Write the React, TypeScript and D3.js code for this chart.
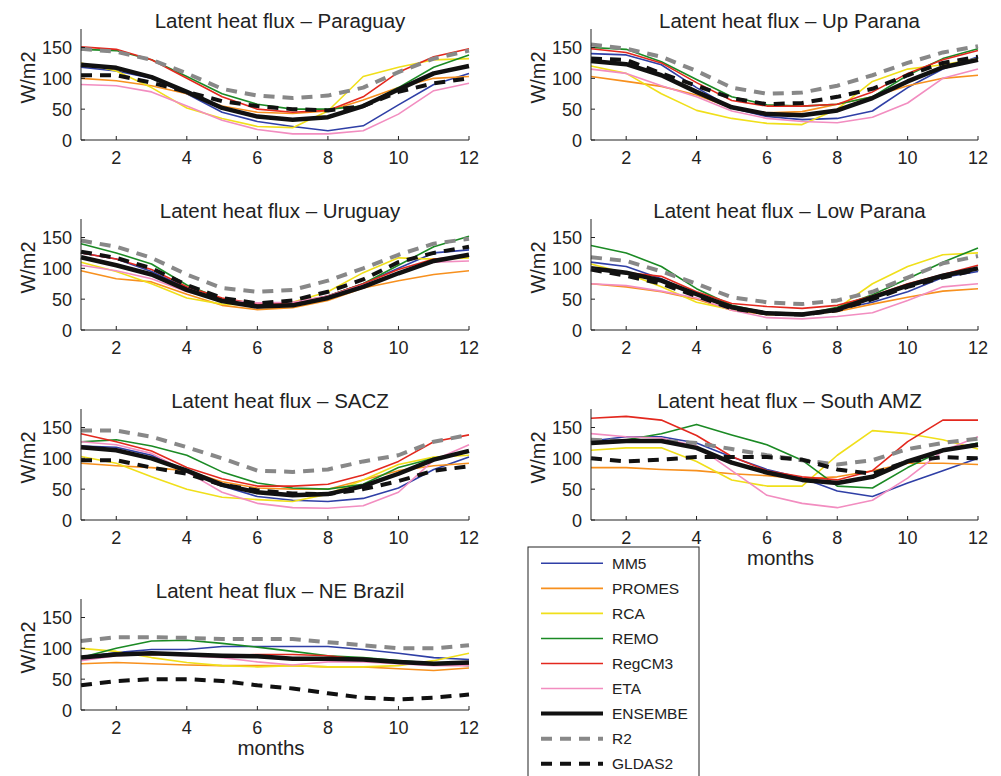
import { useEffect, useRef } from "react";
import * as d3 from "d3";

const months = [1, 2, 3, 4, 5, 6, 7, 8, 9, 10, 11, 12];
const xTicks = [2, 4, 6, 8, 10, 12];
const yTicks = [0, 50, 100, 150];

const models = ["MM5", "PROMES", "RCA", "REMO", "RegCM3", "ETA", "ENSEMBE", "R2", "GLDAS2"];
const colors = ["#2f3fa6", "#f7901e", "#f0df1a", "#1b8a24", "#e3281e", "#f28dc0", "#111111", "#888888", "#111111"];
const widths = [1.6, 1.6, 1.6, 1.6, 1.6, 1.6, 4.5, 4, 4];
const dashes = [null, null, null, null, null, null, null, "11,8", "11,8"];

const titles = ["Paraguay", "Up Parana", "Uruguay", "Low Parana", "SACZ", "South AMZ", "NE Brazil"];

// series per region, order as in models
const paraguay = [
  [118, 112, 100, 75, 45, 30, 22, 15, 23, 57, 90, 108],
  [100, 96, 88, 75, 55, 45, 43, 47, 65, 85, 100, 103],
  [125, 112, 85, 52, 35, 22, 20, 47, 103, 118, 130, 132],
  [147, 145, 130, 103, 75, 58, 50, 50, 55, 85, 118, 138],
  [151, 147, 130, 100, 70, 50, 45, 48, 70, 110, 135, 148],
  [90, 88, 78, 55, 32, 17, 10, 10, 15, 42, 80, 92],
  [122, 117, 102, 78, 52, 38, 33, 37, 55, 82, 108, 120],
  [148, 143, 130, 108, 83, 72, 68, 72, 85, 110, 132, 145],
  [105, 105, 93, 78, 63, 55, 50, 48, 55, 78, 92, 100],
];
const upParana = [
  [140, 138, 122, 85, 52, 38, 33, 35, 47, 85, 115, 135],
  [103, 95, 87, 73, 52, 44, 46, 58, 70, 88, 100, 105],
  [120, 108, 75, 48, 35, 27, 25, 50, 95, 115, 122, 132],
  [150, 147, 127, 98, 70, 57, 55, 58, 70, 105, 132, 148],
  [148, 142, 125, 93, 64, 55, 55, 58, 78, 108, 130, 145],
  [115, 108, 88, 70, 47, 35, 30, 28, 37, 60, 100, 115],
  [128, 123, 105, 78, 53, 42, 40, 48, 68, 95, 118, 130],
  [155, 148, 135, 112, 85, 75, 77, 88, 105, 125, 142, 152],
  [132, 130, 108, 88, 68, 58, 60, 70, 83, 105, 125, 135],
];
const uruguay = [
  [125, 115, 95, 68, 48, 36, 40, 55, 75, 100, 125, 130],
  [96, 83, 78, 58, 40, 33, 36, 48, 68, 80, 90, 96],
  [110, 95, 75, 52, 42, 40, 45, 62, 93, 117, 115, 117],
  [140, 125, 107, 73, 50, 40, 42, 55, 75, 105, 135, 152],
  [125, 115, 98, 70, 52, 42, 44, 55, 75, 98, 115, 120],
  [105, 96, 83, 62, 48, 44, 45, 55, 73, 93, 110, 112],
  [118, 105, 90, 65, 47, 38, 40, 52, 70, 92, 112, 122],
  [145, 135, 117, 90, 68, 62, 65, 80, 100, 122, 140, 148],
  [127, 117, 100, 73, 52, 43, 48, 62, 82, 110, 125, 135],
];
const lowParana = [
  [110, 103, 83, 57, 35, 28, 25, 33, 45, 62, 85, 95],
  [75, 70, 62, 50, 32, 25, 25, 30, 42, 53, 63, 67],
  [107, 92, 70, 45, 33, 27, 25, 35, 75, 103, 122, 125],
  [137, 125, 103, 67, 40, 28, 25, 37, 57, 83, 110, 133],
  [100, 93, 87, 62, 43, 38, 35, 40, 55, 75, 90, 105],
  [75, 72, 63, 52, 32, 20, 18, 22, 28, 48, 70, 75],
  [100, 93, 80, 58, 37, 27, 25, 33, 53, 72, 88, 100],
  [118, 112, 95, 75, 53, 45, 42, 48, 62, 85, 108, 120],
  [98, 88, 75, 55, 35, 27, 25, 32, 50, 70, 85, 98],
];
const sacz = [
  [120, 118, 105, 80, 55, 38, 32, 30, 35, 52, 82, 102],
  [92, 88, 85, 80, 62, 52, 50, 50, 65, 80, 88, 92],
  [103, 92, 70, 50, 37, 33, 30, 42, 65, 90, 102, 105],
  [127, 130, 120, 105, 78, 60, 52, 50, 58, 85, 100, 110],
  [140, 127, 112, 85, 67, 55, 55, 58, 73, 95, 127, 138],
  [127, 122, 108, 78, 45, 27, 20, 19, 23, 45, 97, 122],
  [118, 113, 100, 80, 57, 45, 40, 42, 55, 75, 98, 112],
  [145, 145, 135, 118, 100, 80, 78, 82, 95, 105, 127, 138],
  [97, 97, 85, 75, 57, 48, 43, 42, 50, 63, 80, 87],
];
const southAmz = [
  [128, 135, 135, 125, 102, 82, 68, 47, 38, 60, 80, 100],
  [85, 85, 82, 80, 75, 72, 67, 70, 80, 92, 92, 90],
  [113, 117, 117, 95, 65, 55, 55, 105, 145, 140, 130, 115],
  [127, 130, 140, 155, 138, 122, 97, 55, 52, 85, 113, 125],
  [165, 168, 162, 137, 103, 80, 70, 65, 80, 127, 162, 162],
  [140, 135, 133, 120, 80, 40, 27, 20, 32, 68, 112, 135],
  [125, 128, 128, 117, 93, 77, 65, 60, 70, 95, 113, 122],
  [130, 128, 128, 125, 115, 105, 97, 90, 97, 115, 125, 132],
  [100, 95, 98, 102, 102, 102, 98, 82, 75, 95, 102, 100],
];
const neBrazil = [
  [85, 93, 98, 98, 103, 103, 103, 103, 98, 92, 85, 82],
  [75, 77, 75, 73, 72, 72, 72, 70, 70, 67, 64, 68],
  [100, 95, 85, 77, 72, 70, 72, 70, 70, 72, 80, 92],
  [85, 100, 112, 113, 108, 102, 95, 88, 85, 80, 76, 72],
  [85, 90, 90, 90, 88, 90, 90, 88, 82, 78, 75, 75],
  [80, 88, 90, 88, 85, 78, 73, 78, 78, 75, 72, 72],
  [85, 90, 92, 90, 88, 87, 83, 83, 82, 78, 75, 77],
  [112, 118, 118, 117, 115, 115, 115, 110, 105, 100, 100, 105],
  [40, 47, 50, 50, 47, 40, 35, 27, 20, 17, 20, 25],
];

const regions = [paraguay, upParana, uruguay, lowParana, sacz, southAmz, neBrazil];

export default function App() {
  const ref = useRef<SVGSVGElement>(null);

  useEffect(() => {
    const svg = d3.select(ref.current);
    svg.selectAll("*").remove();
    const font = "'Liberation Sans', Arial, sans-serif";

    regions.forEach((series, p) => {
      const col = p % 2;
      const row = Math.floor(p / 2);
      const left = col === 0 ? 81 : 591;
      const plotW = col === 0 ? 388 : 387;
      const zeroY = 140 + row * 190;
      const x = d3.scaleLinear([1, 12], [left, left + plotW]);
      const y = d3.scaleLinear([0, 180], [zeroY, zeroY - 111]);
      const g = svg.append("g");

      const line = d3
        .line<number>()
        .x((d, i) => x(months[i]))
        .y((d) => y(d));

      // thin model lines first, then ensemble and references on top
      const order = [0, 1, 2, 3, 4, 5, 7, 8, 6];
      order.forEach((k) => {
        g.append("path")
          .attr("d", line(series[k]))
          .attr("fill", "none")
          .attr("stroke", colors[k])
          .attr("stroke-width", widths[k])
          .attr("stroke-dasharray", dashes[k])
          .attr("stroke-linejoin", "round");
      });

      // axes
      g.append("line")
        .attr("x1", left).attr("x2", left + plotW)
        .attr("y1", zeroY).attr("y2", zeroY)
        .attr("stroke", "#222");
      g.append("line")
        .attr("x1", left).attr("x2", left)
        .attr("y1", zeroY).attr("y2", y(180))
        .attr("stroke", "#222");

      xTicks.forEach((t) => {
        g.append("line")
          .attr("x1", x(t)).attr("x2", x(t))
          .attr("y1", zeroY).attr("y2", zeroY - 4)
          .attr("stroke", "#222");
        g.append("text")
          .attr("x", x(t))
          .attr("y", zeroY + 24)
          .attr("text-anchor", "middle")
          .attr("font-family", font)
          .attr("font-size", 18)
          .attr("fill", "#222")
          .text(t);
      });
      yTicks.forEach((t) => {
        g.append("line")
          .attr("x1", left).attr("x2", left + 4)
          .attr("y1", y(t)).attr("y2", y(t))
          .attr("stroke", "#222");
        g.append("text")
          .attr("x", left - 9)
          .attr("y", y(t) + 6.5)
          .attr("text-anchor", "end")
          .attr("font-family", font)
          .attr("font-size", 18)
          .attr("fill", "#222")
          .text(t);
      });

      g.append("text")
        .attr("transform", `translate(${left - 46},${zeroY - 62.5}) rotate(-90)`)
        .attr("text-anchor", "middle")
        .attr("font-family", font)
        .attr("font-size", 20)
        .attr("fill", "#222")
        .text("W/m2");

      g.append("text")
        .attr("x", left + plotW / 2 + 5)
        .attr("y", zeroY - 112)
        .attr("text-anchor", "middle")
        .attr("font-family", font)
        .attr("font-size", 20.5)
        .attr("fill", "#222")
        .text(`Latent heat flux \u2013 ${titles[p]}`);

      if (p >= 5) {
        g.append("text")
          .attr("x", left + plotW / 2 - 4)
          .attr("y", zeroY + 45)
          .attr("text-anchor", "middle")
          .attr("font-family", font)
          .attr("font-size", 20.5)
          .attr("fill", "#222")
          .text("months");
      }
    });

    // legend
    const lg = svg.append("g");
    lg.append("rect")
      .attr("x", 528).attr("y", 547)
      .attr("width", 171).attr("height", 260)
      .attr("fill", "#fff")
      .attr("stroke", "#222");
    models.forEach((m, i) => {
      const ly = 563.3 + i * 25.05;
      lg.append("line")
        .attr("x1", 541).attr("x2", 603)
        .attr("y1", ly).attr("y2", ly)
        .attr("stroke", colors[i])
        .attr("stroke-width", i >= 6 ? 4 : 1.6)
        .attr("stroke-dasharray", dashes[i]);
      lg.append("text")
        .attr("x", 612)
        .attr("y", ly + 5.5)
        .attr("font-family", font)
        .attr("font-size", 15.5)
        .attr("fill", "#222")
        .text(m);
    });
  }, []);

  return (
    <svg
      ref={ref}
      width={1001}
      height={776}
      style={{ position: "absolute", left: 0, top: 0, background: "#fff" }}
    />
  );
}
